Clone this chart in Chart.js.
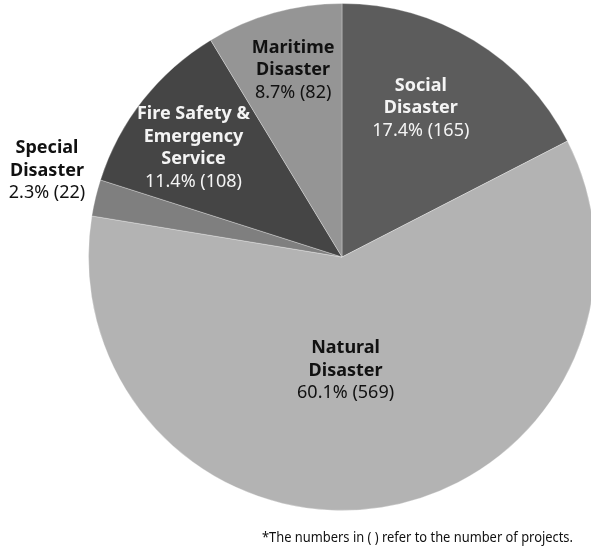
<!DOCTYPE html>
<html>
<head>
<meta charset="utf-8">
<script src="https://cdn.jsdelivr.net/npm/chart.js@4"></script>
<style>
  html, body { margin: 0; padding: 0; background: #fff; overflow: hidden; width: 591px; height: 547px; }
  #wrap { position: relative; width: 591px; height: 547px; overflow: hidden; }
  canvas { position: absolute; left: 0; top: 0; }
</style>
</head>
<body>
<div id="wrap">
  <canvas id="grafico" width="684" height="547"></canvas>
</div>
<script>
// datos del grafico (orden horario desde las 12)
const categorias = ['Social Disaster', 'Natural Disaster', 'Special Disaster', 'Fire Safety & Emergency Service', 'Maritime Disaster'];
const proyectos = [165, 569, 22, 108, 82];
const lineasEtiqueta = [
    ['Social', 'Disaster'],
    ['Natural', 'Disaster'],
    ['Special', 'Disaster'],
    ['Fire Safety &', 'Emergency', 'Service'],
    ['Maritime', 'Disaster']
];
const nota = '*The numbers in ( ) refer to the number of projects.';

const colores = ['#5c5c5c', '#b3b3b3', '#7f7f7f', '#454545', '#959595'];
const colorTexto = ['#f4f4f4', '#111111', '#111111', '#f4f4f4', '#111111'];
// distancia relativa al radio + ajuste fino en px
const posEtiqueta = [
    { f: 0.665, dx: -9, dy: -5 },
    { f: 0.446, dx: -14, dy: 2 },
    { f: 1.209, dx: 3, dy: -15 },
    { f: 0.726, dx: -4, dy: 5 },
    { f: 0.761, dx: 3, dy: -1 }
];

const total = proyectos.reduce((a, b) => a + b, 0);

const etiquetas = {
    id: 'etiquetas',
    afterDatasetsDraw(chart) {
        const ctx = chart.ctx;
        const arcos = chart.getDatasetMeta(0).data;
        ctx.save();
        ctx.textAlign = 'center';
        ctx.textBaseline = 'middle';
        arcos.forEach((arco, i) => {
            const a = (arco.startAngle + arco.endAngle) / 2;
            const r = arco.outerRadius * posEtiqueta[i].f;
            const cx = arco.x + Math.cos(a) * r + posEtiqueta[i].dx;
            const cy = arco.y + Math.sin(a) * r + posEtiqueta[i].dy;
            const lineas = lineasEtiqueta[i].slice();
            const pct = (proyectos[i] / total * 100).toFixed(1) + '% (' + proyectos[i] + ')';
            const n = lineas.length + 1;
            const alto = 22.5;
            let y = cy - (n - 1) * alto / 2;
            ctx.fillStyle = colorTexto[i];
            lineas.forEach(t => {
                ctx.font = 'bold 18px "Noto Sans"';
                ctx.fillText(t, cx, y);
                y += alto;
            });
            ctx.font = '18px "Noto Sans"';
            ctx.fillText(pct, cx, y);
        });
        // nota al pie
        ctx.textAlign = 'left';
        ctx.textBaseline = 'alphabetic';
        ctx.fillStyle = '#111111';
        ctx.font = '15px "Noto Sans"';
        ctx.fillText(nota, 262, 542, 311);
        ctx.restore();
    }
};

new Chart(document.getElementById('grafico').getContext('2d'), {
    type: 'pie',
    data: {
        labels: categorias,
        datasets: [{
            data: proyectos,
            backgroundColor: colores,
            borderColor: 'rgba(255,255,255,0.3)',
            borderWidth: 1,
            hoverOffset: 0
        }]
    },
    options: {
        responsive: false,
        animation: false,
        events: [],
        layout: { padding: { top: 3, bottom: 36, left: 0, right: 0 } },
        plugins: {
            legend: { display: false },
            tooltip: { enabled: false }
        }
    },
    plugins: [etiquetas]
});
</script>
</body>
</html>
